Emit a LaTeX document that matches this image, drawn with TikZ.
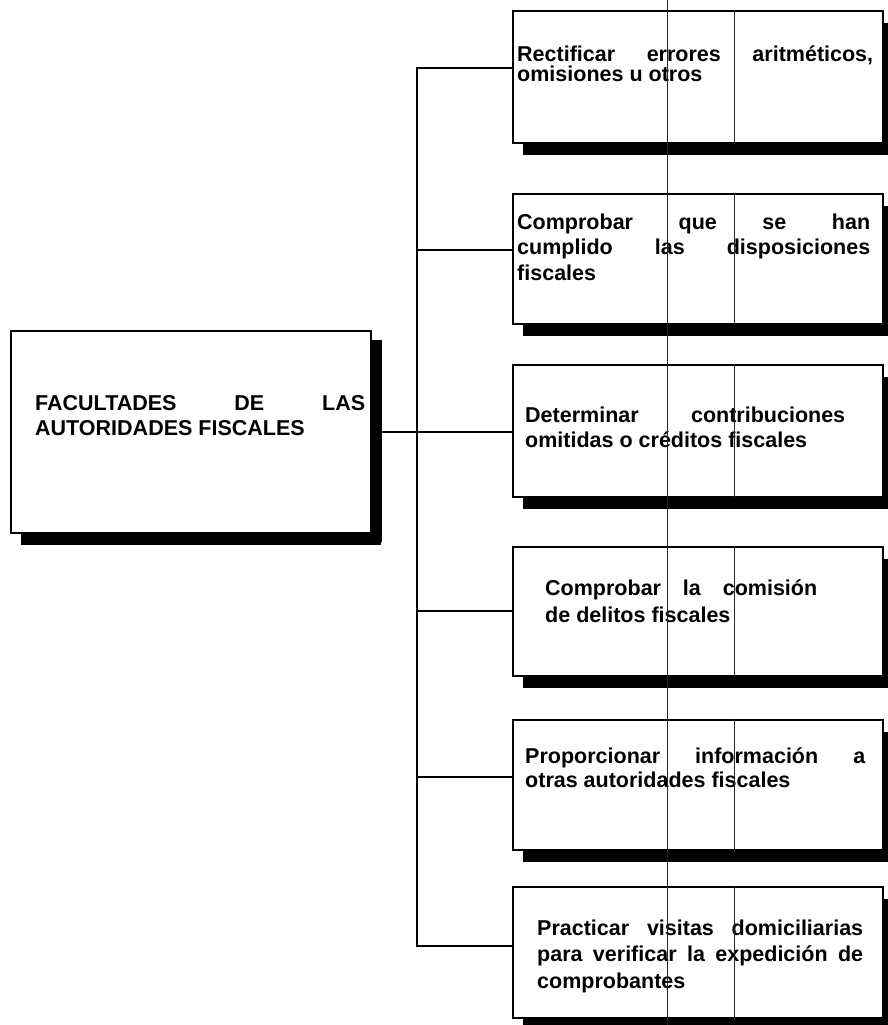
\documentclass[tikz,border=0pt]{standalone}
\usepackage{fontspec}
\setmainfont{Liberation Sans}
\usetikzlibrary{shadows}
\newcommand{\jl}[2]{\hbox{\makebox[#1][s]{#2}}}
\newcommand{\rl}[1]{\hbox{#1}}
\newcommand{\lines}[2]{\vtop{\baselineskip=#1\lineskiplimit=-100pt\lineskip=0pt #2}}
\tikzset{
  x=1pt, y=-1pt,
  box/.style={draw=black, line width=1.8pt, fill=white, rectangle, inner sep=0pt, anchor=north west,
    drop shadow={shadow xshift=10pt, shadow yshift=-12pt, fill=black, opacity=1}},
  lbox/.style={box, drop shadow={shadow xshift=11pt, shadow yshift=-9pt, fill=black, opacity=1}},
  txt/.style={inner sep=0pt, anchor=base west, font=\bfseries\fontsize{21.5}{25}\selectfont},
  conn/.style={line width=1.8pt, line cap=rect},
  scan/.style={line width=0.9pt, black!85}
}
\begin{document}
\begin{tikzpicture}
\useasboundingbox (0,0) rectangle (888,1025);
\fill[white] (0,0) rectangle (888,1025);
% trunk coordinates
\coordinate (t1) at (417,68);
\coordinate (t2) at (417,250);
\coordinate (t3) at (417,432);
\coordinate (t4) at (417,611);
\coordinate (t5) at (417,777);
\coordinate (t6) at (417,946);
% connectors (drawn first, boxes cover their ends)
\draw[conn] (t1) -- (t6);
% boxes
\node[lbox, minimum width=360pt, minimum height=202pt] (L) at (10,330) {};
\node[box, minimum width=370pt, minimum height=132pt] (b1) at (512,10) {};
\node[box, minimum width=370pt, minimum height=130pt] (b2) at (512,193) {};
\node[box, minimum width=370pt, minimum height=132pt] (b3) at (512,364) {};
\node[box, minimum width=370pt, minimum height=129pt] (b4) at (512,546) {};
\node[box, minimum width=370pt, minimum height=130pt] (b5) at (512,719) {};
\node[box, minimum width=370pt, minimum height=131pt] (b6) at (512,886) {};
% branches
\draw[conn] (L.east |- t3) -- (t3);
\draw[conn] (t1) -- (t1 -| b1.west);
\draw[conn] (t2) -- (t2 -| b2.west);
\draw[conn] (t3) -- (t3 -| b3.west);
\draw[conn] (t4) -- (t4 -| b4.west);
\draw[conn] (t5) -- (t5 -| b5.west);
\draw[conn] (t6) -- (t6 -| b6.west);
% texts
\node[txt] (Lt) at (35,410) {\lines{25pt}{\jl{330pt}{FACULTADES DE LAS}\rl{AUTORIDADES FISCALES}}};
\node[txt] (b1t) at (517,62) {\lines{19.5pt}{\jl{356pt}{Rectificar errores aritméticos,}\rl{omisiones u otros}}};
\node[txt] (b2t) at (517,229) {\lines{25.5pt}{\jl{353pt}{Comprobar que se han}\jl{353pt}{cumplido las disposiciones}\rl{fiscales}}};
\node[txt] (b3t) at (525,422) {\lines{25pt}{\jl{320pt}{Determinar contribuciones}\rl{omitidas o créditos fiscales}}};
\node[txt] (b4t) at (545,595) {\lines{27pt}{\jl{272pt}{Comprobar la comisión}\rl{de delitos fiscales}}};
\node[txt] (b5t) at (525,763) {\lines{24.5pt}{\jl{340pt}{Proporcionar información a}\rl{otras autoridades fiscales}}};
\node[txt] (b6t) at (537,935) {\lines{26.5pt}{\jl{326pt}{Practicar visitas domiciliarias}\jl{326pt}{para verificar la expedición de}\rl{comprobantes}}};
% scan fold lines
\draw[scan] (667,0) -- (667,1025);
\foreach \b in {b1,b2,b3,b4,b5,b6}{
  \draw[scan] (\b.north west -| 734,0) -- (\b.south west -| 734,0);
}
\end{tikzpicture}
\end{document}
